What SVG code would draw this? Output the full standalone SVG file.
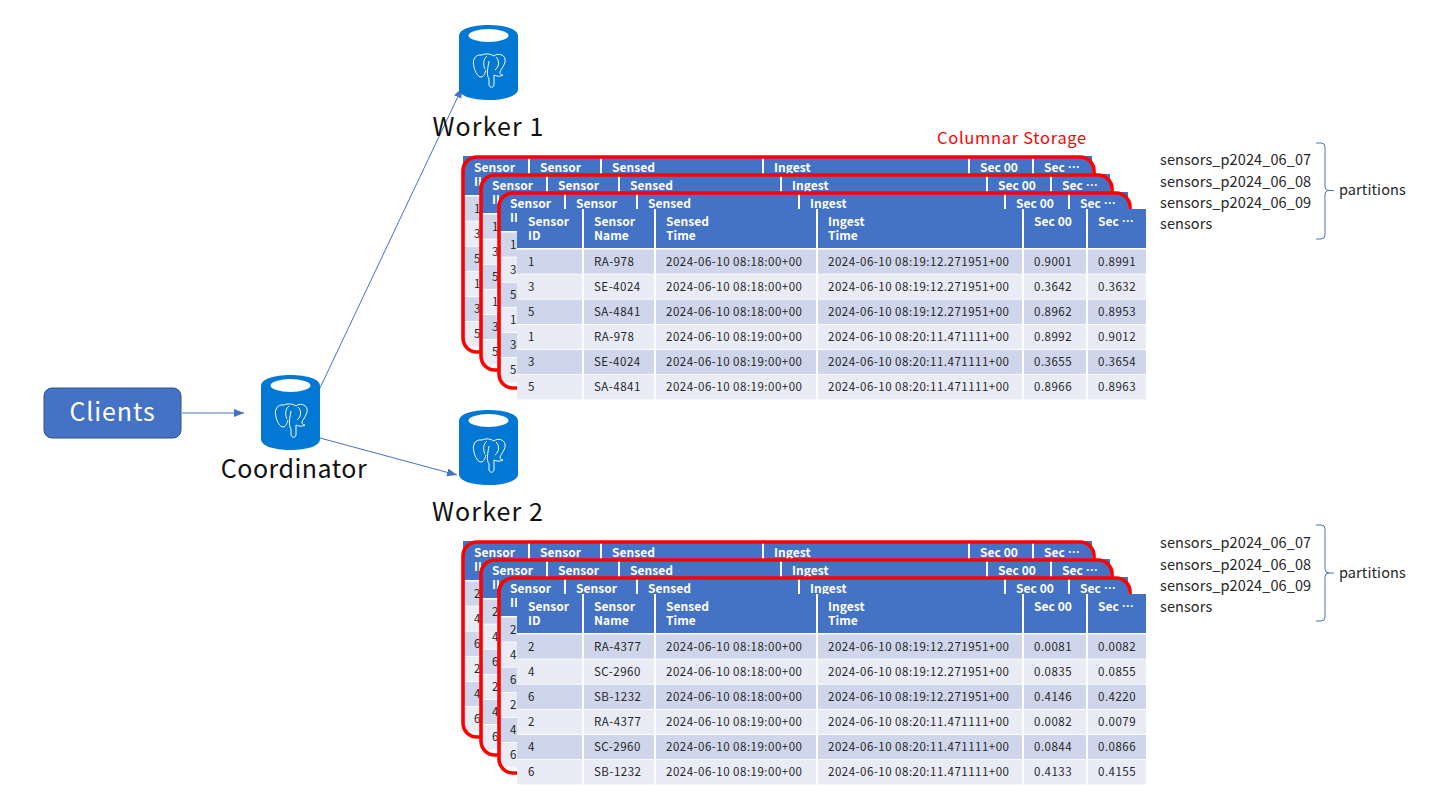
<svg xmlns="http://www.w3.org/2000/svg" width="1440" height="810" viewBox="0 0 1440 810">
<style>
text{font-family:"Noto Sans CJK JP","Noto Sans",sans-serif}
.bg{fill:#fff}
.hd{fill:#4472C4}
.o{fill:#CFD5EA}
.e{fill:#E9EBF5}
.sep{stroke:#fff;stroke-width:2;fill:none}
.red{fill:none;stroke:#F00;stroke-width:3.6}
.h{font-size:12px;font-weight:700;fill:#fff;letter-spacing:.05px}
.c{font-size:11.5px;fill:#262626;letter-spacing:.5px}
.lbl{font-size:25px;fill:#111;text-anchor:middle;letter-spacing:.5px}
.wk{letter-spacing:1.1px}
.part{font-size:14.5px;fill:#262626;letter-spacing:.1px}
.brace{fill:none;stroke:#4472C4;stroke-width:1}
.conn{fill:none;stroke:#4472C4;stroke-width:1;marker-end:url(#arr)}
.el{fill:none;stroke:#fff;stroke-width:1}
</style>
<defs>
<marker id="arr" markerWidth="12" markerHeight="10" refX="10" refY="4" orient="auto" markerUnits="userSpaceOnUse"><path d="M0 0L10 4L0 8Z" fill="#4472C4"/></marker>
<symbol id="pg" width="60" height="76" viewBox="0 0 60 76" overflow="visible">
<path d="M0 11C0 4 13 0 29.5 0S59 4 59 11V64C59 71 46 75 29.5 75S0 71 0 64Z" fill="#0078D4"/>
<ellipse cx="29.5" cy="10.5" rx="20" ry="6.5" fill="#fff"/>
<path class="el" d="M23 30C16 29 13 35 15 42C16 47 19 52 22 52C25 52 26 48 27 45"/>
<path class="el" d="M23 30C27 28 32 29 35 31C38 28 45 29 46 34C47 39 42 44 41 47C41 50 43 50 44 50C41 52 37 51 35 50L35 60C34 63 31 63 30 60L30 54C27 50 29 42 30 36"/>
<path class="el" d="M28 31C24 34 24 40 26 44M37 32C41 36 40 42 36 45"/>
</symbol>
<g id="backBase">
<rect class="bg" width="629" height="191"/>
<rect class="hd" width="629" height="39"/>
<rect class="o" y="40.5" width="629" height="24.2"/>
<rect class="e" y="65.6" width="629" height="24.2"/>
<rect class="o" y="90.7" width="629" height="24.2"/>
<rect class="e" y="115.8" width="629" height="24.2"/>
<rect class="o" y="140.9" width="629" height="24.2"/>
<rect class="e" y="166" width="629" height="24.4"/>
<path class="sep" d="M66 0V191M138 0V191M300 0V191M506 0V191M570 0V191"/>
</g>
<g id="head">
<text class="h" x="11" y="17">Sensor</text><text class="h" x="11" y="31">ID</text>
<text class="h" x="77" y="17">Sensor</text><text class="h" x="77" y="31">Name</text>
<text class="h" x="149" y="17">Sensed</text><text class="h" x="149" y="31">Time</text>
<text class="h" x="311" y="17">Ingest</text><text class="h" x="311" y="31">Time</text>
<text class="h" x="517" y="17">Sec 00</text>
<text class="h" x="581" y="17" xml:lang="ja">Sec ⋯</text>
</g>
</defs>

<g id="connectors">
<path class="conn" d="M182 413H244"/>
<path class="conn" d="M320 388L462 88"/>
<path class="conn" d="M320 438L457 475"/>
</g>

<g id="clients">
<rect x="44" y="388" width="137" height="50" rx="8" fill="#4472C4" stroke="#2F528F"/>
<text x="112.500" y="421" font-size="25" fill="#fff" text-anchor="middle" letter-spacing=".9">Clients</text>
</g>
<g id="coordinator"><use href="#pg" x="261" y="375"/><text class="lbl" x="294" y="478">Coordinator</text></g>
<g id="worker1"><use href="#pg" x="459" y="25"/><text class="lbl wk" x="488.500" y="136">Worker 1</text></g>
<g id="worker2"><use href="#pg" x="459" y="410"/><text class="lbl wk" x="488" y="521">Worker 2</text></g>

<text id="columnar-label" x="937" y="144" font-size="16.5" fill="#F00" letter-spacing=".7">Columnar Storage</text>

<g id="storage1">
<g transform="translate(463 156)"><use href="#backBase"/><use href="#head" y="-1"/>
<text class="c" x="11" y="56.5">1</text><text class="c" x="11" y="81.5">3</text><text class="c" x="11" y="106.5">5</text><text class="c" x="11" y="131.5">1</text><text class="c" x="11" y="156.5">3</text><text class="c" x="11" y="181.5">5</text>
<rect class="red" x="0" y="1" width="631" height="195" rx="14"/></g>
<g transform="translate(481 174)"><use href="#backBase"/><use href="#head" y="-1"/>
<text class="c" x="11" y="56.5">1</text><text class="c" x="11" y="81.5">3</text><text class="c" x="11" y="106.5">5</text><text class="c" x="11" y="131.5">1</text><text class="c" x="11" y="156.5">3</text><text class="c" x="11" y="181.5">5</text>
<rect class="red" x="0" y="1" width="631" height="195" rx="14"/></g>
<g transform="translate(499 192)"><use href="#backBase"/><use href="#head" y="-1"/>
<text class="c" x="11" y="56.5">1</text><text class="c" x="11" y="81.5">3</text><text class="c" x="11" y="106.5">5</text><text class="c" x="11" y="131.5">1</text><text class="c" x="11" y="156.5">3</text><text class="c" x="11" y="181.5">5</text>
<rect class="red" x="0" y="1" width="631" height="195" rx="14"/></g>
<g transform="translate(517 209)"><use href="#backBase"/><use href="#head"/>
<text class="c" x="11" y="56.5">1</text><text class="c" x="77" y="56.5">RA-978</text><text class="c" x="149" y="56.5">2024-06-10 08:18:00+00</text><text class="c" x="311" y="56.5">2024-06-10 08:19:12.271951+00</text><text class="c" x="517" y="56.5">0.9001</text><text class="c" x="581" y="56.5">0.8991</text>
<text class="c" x="11" y="81.5">3</text><text class="c" x="77" y="81.5">SE-4024</text><text class="c" x="149" y="81.5">2024-06-10 08:18:00+00</text><text class="c" x="311" y="81.5">2024-06-10 08:19:12.271951+00</text><text class="c" x="517" y="81.5">0.3642</text><text class="c" x="581" y="81.5">0.3632</text>
<text class="c" x="11" y="106.5">5</text><text class="c" x="77" y="106.5">SA-4841</text><text class="c" x="149" y="106.5">2024-06-10 08:18:00+00</text><text class="c" x="311" y="106.5">2024-06-10 08:19:12.271951+00</text><text class="c" x="517" y="106.5">0.8962</text><text class="c" x="581" y="106.5">0.8953</text>
<text class="c" x="11" y="131.5">1</text><text class="c" x="77" y="131.5">RA-978</text><text class="c" x="149" y="131.5">2024-06-10 08:19:00+00</text><text class="c" x="311" y="131.5">2024-06-10 08:20:11.471111+00</text><text class="c" x="517" y="131.5">0.8992</text><text class="c" x="581" y="131.5">0.9012</text>
<text class="c" x="11" y="156.5">3</text><text class="c" x="77" y="156.5">SE-4024</text><text class="c" x="149" y="156.5">2024-06-10 08:19:00+00</text><text class="c" x="311" y="156.5">2024-06-10 08:20:11.471111+00</text><text class="c" x="517" y="156.5">0.3655</text><text class="c" x="581" y="156.5">0.3654</text>
<text class="c" x="11" y="181.5">5</text><text class="c" x="77" y="181.5">SA-4841</text><text class="c" x="149" y="181.5">2024-06-10 08:19:00+00</text><text class="c" x="311" y="181.5">2024-06-10 08:20:11.471111+00</text><text class="c" x="517" y="181.5">0.8966</text><text class="c" x="581" y="181.5">0.8963</text>
</g>
</g>

<g id="storage2">
<g transform="translate(463 541)"><use href="#backBase"/><use href="#head" y="-1"/>
<text class="c" x="11" y="56.5">2</text><text class="c" x="11" y="81.5">4</text><text class="c" x="11" y="106.5">6</text><text class="c" x="11" y="131.5">2</text><text class="c" x="11" y="156.5">4</text><text class="c" x="11" y="181.5">6</text>
<rect class="red" x="0" y="1" width="631" height="195" rx="14"/></g>
<g transform="translate(481 559)"><use href="#backBase"/><use href="#head" y="-1"/>
<text class="c" x="11" y="56.5">2</text><text class="c" x="11" y="81.5">4</text><text class="c" x="11" y="106.5">6</text><text class="c" x="11" y="131.5">2</text><text class="c" x="11" y="156.5">4</text><text class="c" x="11" y="181.5">6</text>
<rect class="red" x="0" y="1" width="631" height="195" rx="14"/></g>
<g transform="translate(499 577)"><use href="#backBase"/><use href="#head" y="-1"/>
<text class="c" x="11" y="56.5">2</text><text class="c" x="11" y="81.5">4</text><text class="c" x="11" y="106.5">6</text><text class="c" x="11" y="131.5">2</text><text class="c" x="11" y="156.5">4</text><text class="c" x="11" y="181.5">6</text>
<rect class="red" x="0" y="1" width="631" height="195" rx="14"/></g>
<g transform="translate(517 594)"><use href="#backBase"/><use href="#head"/>
<text class="c" x="11" y="56.5">2</text><text class="c" x="77" y="56.5">RA-4377</text><text class="c" x="149" y="56.5">2024-06-10 08:18:00+00</text><text class="c" x="311" y="56.5">2024-06-10 08:19:12.271951+00</text><text class="c" x="517" y="56.5">0.0081</text><text class="c" x="581" y="56.5">0.0082</text>
<text class="c" x="11" y="81.5">4</text><text class="c" x="77" y="81.5">SC-2960</text><text class="c" x="149" y="81.5">2024-06-10 08:18:00+00</text><text class="c" x="311" y="81.5">2024-06-10 08:19:12.271951+00</text><text class="c" x="517" y="81.5">0.0835</text><text class="c" x="581" y="81.5">0.0855</text>
<text class="c" x="11" y="106.5">6</text><text class="c" x="77" y="106.5">SB-1232</text><text class="c" x="149" y="106.5">2024-06-10 08:18:00+00</text><text class="c" x="311" y="106.5">2024-06-10 08:19:12.271951+00</text><text class="c" x="517" y="106.5">0.4146</text><text class="c" x="581" y="106.5">0.4220</text>
<text class="c" x="11" y="131.5">2</text><text class="c" x="77" y="131.5">RA-4377</text><text class="c" x="149" y="131.5">2024-06-10 08:19:00+00</text><text class="c" x="311" y="131.5">2024-06-10 08:20:11.471111+00</text><text class="c" x="517" y="131.5">0.0082</text><text class="c" x="581" y="131.5">0.0079</text>
<text class="c" x="11" y="156.5">4</text><text class="c" x="77" y="156.5">SC-2960</text><text class="c" x="149" y="156.5">2024-06-10 08:19:00+00</text><text class="c" x="311" y="156.5">2024-06-10 08:20:11.471111+00</text><text class="c" x="517" y="156.5">0.0844</text><text class="c" x="581" y="156.5">0.0866</text>
<text class="c" x="11" y="181.5">6</text><text class="c" x="77" y="181.5">SB-1232</text><text class="c" x="149" y="181.5">2024-06-10 08:19:00+00</text><text class="c" x="311" y="181.5">2024-06-10 08:20:11.471111+00</text><text class="c" x="517" y="181.5">0.4133</text><text class="c" x="581" y="181.5">0.4155</text>
</g>
</g>

<g id="partitions1">
<text class="part" x="1160" y="165">sensors_p2024_06_07</text>
<text class="part" x="1160" y="187">sensors_p2024_06_08</text>
<text class="part" x="1160" y="208">sensors_p2024_06_09</text>
<text class="part" x="1160" y="229">sensors</text>
<path class="brace" d="M1316 143H1321Q1325 143 1325 147V186Q1325 190.500 1329 190.500H1334M1329 190.500Q1325 190.500 1325 195V235Q1325 239 1321 239H1316"/>
<text class="part" x="1339" y="195">partitions</text>
</g>
<g id="partitions2">
<text class="part" x="1160" y="548">sensors_p2024_06_07</text>
<text class="part" x="1160" y="570">sensors_p2024_06_08</text>
<text class="part" x="1160" y="591">sensors_p2024_06_09</text>
<text class="part" x="1160" y="612">sensors</text>
<path class="brace" d="M1316 525H1321Q1325 525 1325 529V569Q1325 573 1329 573H1334M1329 573Q1325 573 1325 577V617Q1325 621 1321 621H1316"/>
<text class="part" x="1339" y="578">partitions</text>
</g>
</svg>
